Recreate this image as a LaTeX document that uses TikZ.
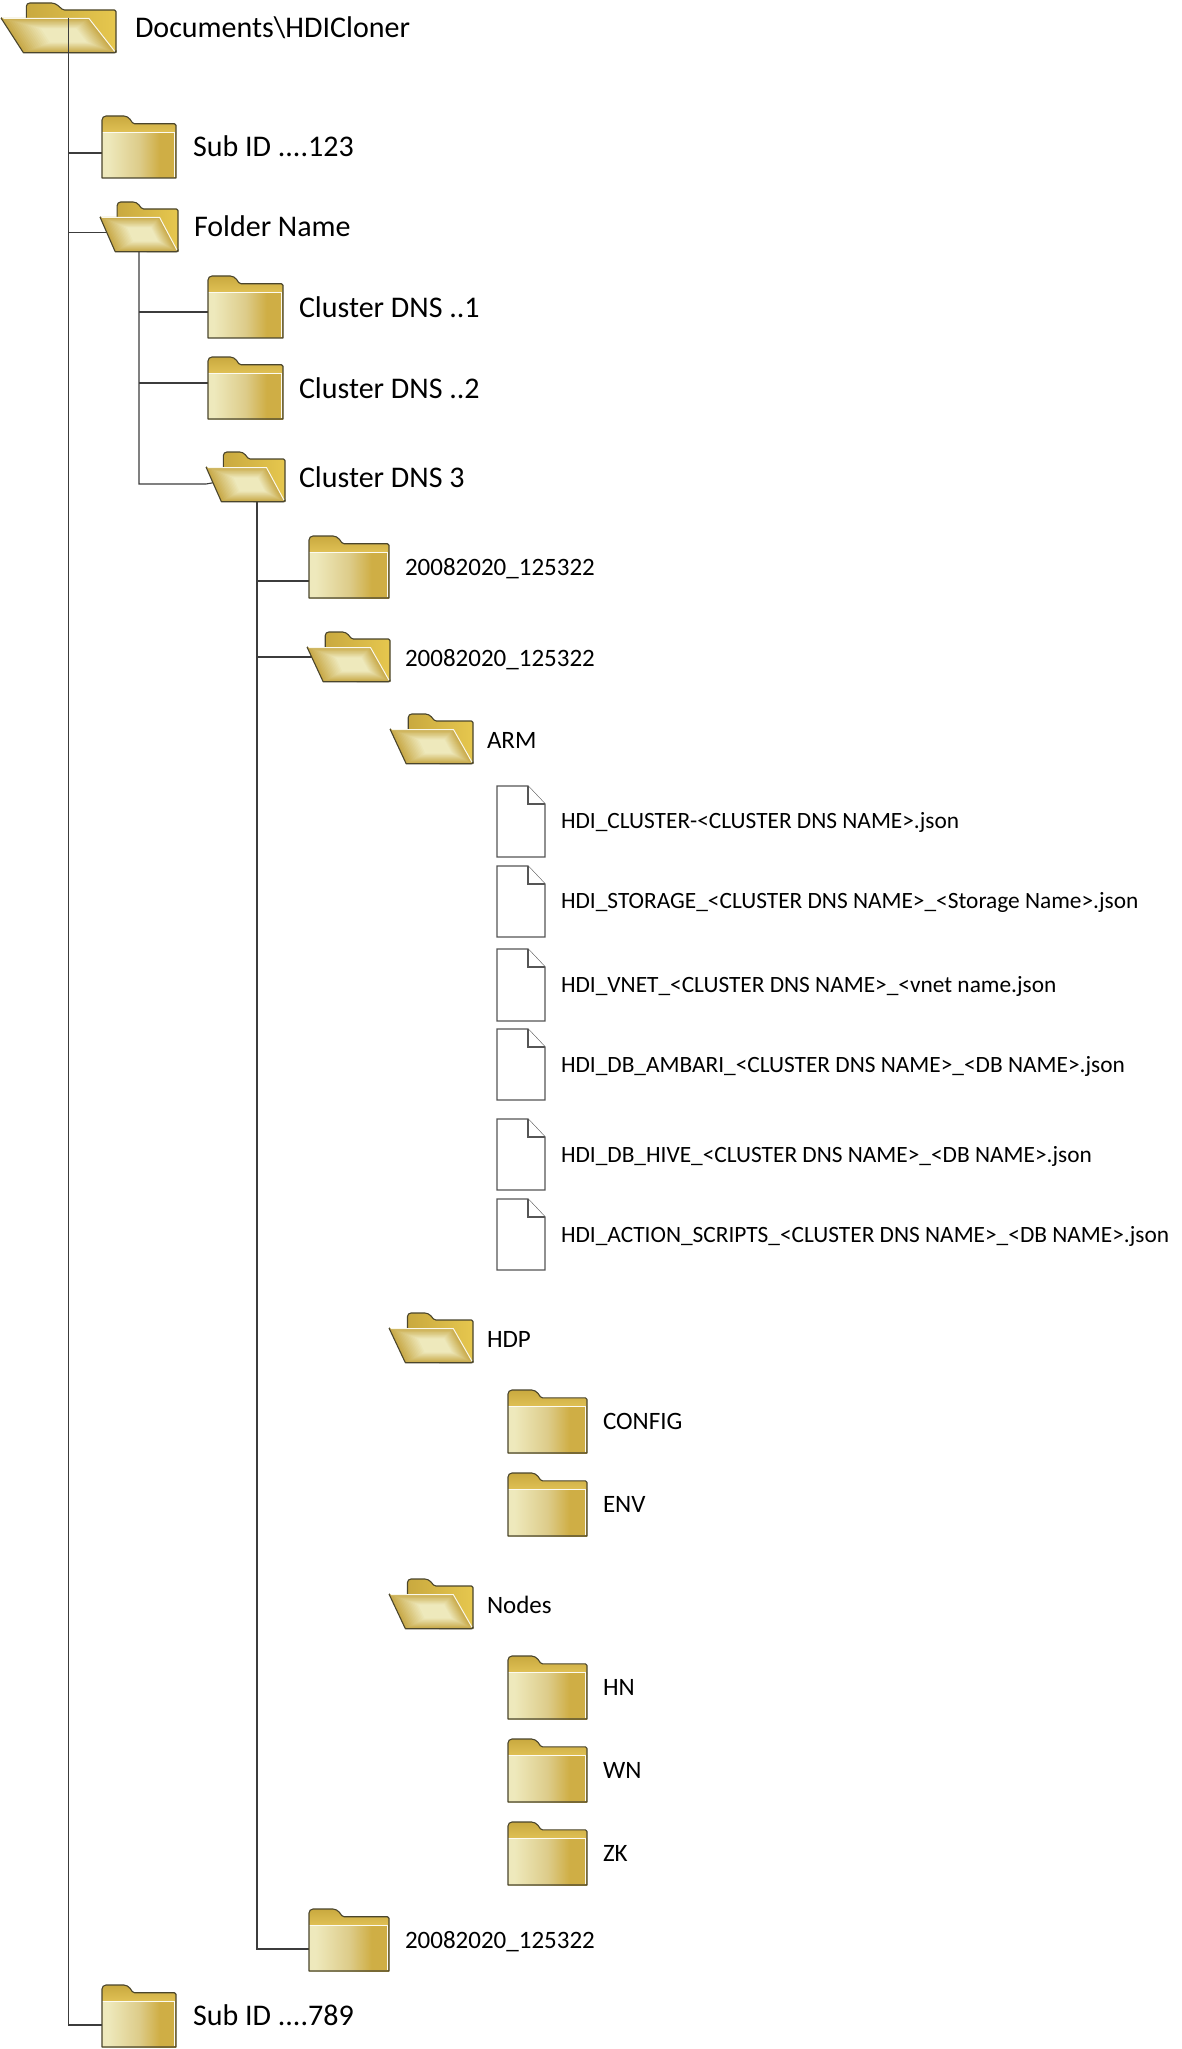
\documentclass[tikz,border=0pt]{standalone}
\usepackage{fontspec}
\setmainfont{Carlito}
\usetikzlibrary{backgrounds}
\definecolor{fline}{HTML}{4A452C}
\definecolor{glowin}{HTML}{EEE9BC}
\definecolor{glowout}{HTML}{C8A947}
\definecolor{goldtop}{HTML}{C9A93F}
\definecolor{goldlow}{HTML}{E3C458}
\definecolor{goldback}{HTML}{E6C74E}
\definecolor{panelmid}{HTML}{DDCC8A}
\definecolor{paneldark}{HTML}{CFAE45}
\definecolor{conn}{HTML}{3C3C3C}
\definecolor{fileline}{HTML}{555555}
\pgfdeclarehorizontalshading{panelshade}{100bp}{color(0bp)=(glowin); color(29bp)=(glowin); color(50bp)=(panelmid); color(64bp)=(paneldark); color(100bp)=(paneldark)}
\tikzset{
  iconbox/.style={rectangle,draw=none,inner sep=0pt,outer sep=0pt},
  outlinestyle/.style={draw=fline,line width=1.1pt,line join=round},
  connector/.style={draw=conn,line width=1.1pt},
  filestyle/.style={draw=fileline,fill=white,line width=1.1pt,line join=miter},
  lab/.style={anchor=base west,inner sep=0pt,outer sep=0pt,text=black},
  bigtxt/.style={lab,font=\fontsize{30}{35}\selectfont},
  midtxt/.style={lab,font=\fontsize{25}{30}\selectfont},
  filetxt/.style={lab,font=\fontsize{23.35}{28}\selectfont},
}
\newcommand{\fcbox}[5]{\node[iconbox,minimum width={(#4-#2)*1pt},minimum height={(#5-#3)*1pt}] (#1) at ({(#2+#4)/2},{(#3+#5)/2}) {};}
% closed folder: name x0 y0 x1 y1
\newcommand{\closedfolder}[5]{%
  \fcbox{#1}{#2}{#3}{#4}{#5}
  \pgfmathsetmacro\fw{(#4-#2)/100}\pgfmathsetmacro\fh{(#5-#3)/100}
  \begin{scope}[shift={(#2,#3)},x=\fw pt,y=-\fh pt]
    \shade[top color=goldtop,bottom color=goldlow] (0,30) [rounded corners=4pt] -- (0,0) -- (35,0) [rounded corners=1.5pt] -- (42,12.5) -- (100,12.5) [sharp corners] -- (100,30) -- cycle;
    \shade[shading=panelshade] (0,26) rectangle (100,100);
    \draw[white!80!glowin,line width=1pt] (0.5,26) -- (98,26) -- (98,99);
    \draw[outlinestyle] (0,100) [rounded corners=4pt] -- (0,0) -- (35,0) [rounded corners=1.5pt] -- (42,12.5) -- (100,12.5) [sharp corners] -- (100,100) -- cycle;
  \end{scope}}
% open folder
\newcommand{\openfolder}[5]{%
  \fcbox{#1}{#2}{#3}{#4}{#5}
  \pgfmathsetmacro\fw{(#4-#2)/100}\pgfmathsetmacro\fh{(#5-#3)/100}
  \begin{scope}[shift={(#2,#3)},x=\fw pt,y=-\fh pt]
    \shade[left color=goldtop,right color=goldback,draw=fline,line width=1.1pt,line join=round] (22,40) [rounded corners=3.5pt] -- (22,0) -- (47,0) [rounded corners=1.5pt] -- (54,14) -- (100,14) [sharp corners] -- (100,99) -- (60,99) -- cycle;
    \foreach \i in {0,...,15}{
      \pgfmathsetmacro\s{1-0.6*\i/15}
      \pgfmathsetmacro\m{100*(\i/15)}
      \fill[glowin!\m!glowout] ({58+(0-58)*\s},{65+(30-65)*\s}) -- ({58+(76.5-58)*\s},{65+(30-65)*\s}) -- ({58+(99.5-58)*\s},{65+(99.5-65)*\s}) -- ({58+(19.5-58)*\s},{65+(99.5-65)*\s}) -- cycle;
    }
    \draw[white!70!glowin,line width=1pt] (2,31) -- (76.5,31) -- (99,97);
    \draw[outlinestyle] (0,30) -- (0.8,30) (0,30) -- (19.5,99.5) [rounded corners=1.5pt] -- (100,99.5) -- (100,95);
  \end{scope}}
% file: name x0 y0 x1 y1
\newcommand{\filepage}[5]{%
  \node[iconbox,minimum width={(#4-#2)*1pt},minimum height={(#5-#3)*1pt}] (#1) at ({(#2+#4)/2},{(#3+#5)/2}) {};
  \draw[filestyle] (#2,#3) -- ({#4-17},#3) -- (#4,{#3+18}) -- (#4,#5) -- (#2,#5) -- cycle;
  \draw[filestyle] ({#4-17},#3) -- ({#4-17},{#3+18}) -- (#4,{#3+18});}
\begin{document}
\begin{tikzpicture}[x=1pt,y=-1pt]
\useasboundingbox (0,0) rectangle (1181,2049);

\openfolder{root}{1}{3}{116}{53}
\closedfolder{subA}{102}{116}{176}{178}
\openfolder{fname}{100}{202}{178}{252}
\closedfolder{dnsA}{208}{276}{283}{338}
\closedfolder{dnsB}{208}{357}{283}{419}
\openfolder{dnsC}{206}{452}{285}{502}
\closedfolder{dateA}{309}{536}{389}{598}
\openfolder{dateB}{307}{632}{390}{682}
\openfolder{arm}{390}{714}{473}{764}
\filepage{fileA}{497}{786}{545}{857}
\filepage{fileB}{497}{866}{545}{937}
\filepage{fileC}{497}{949}{545}{1021}
\filepage{fileD}{497}{1029}{545}{1100}
\filepage{fileE}{497}{1119}{545}{1190}
\filepage{fileF}{497}{1199}{545}{1270}
\openfolder{hdp}{389}{1313}{473}{1363}
\closedfolder{config}{508}{1390}{587}{1453}
\closedfolder{env}{508}{1473}{587}{1536}
\openfolder{nodesf}{389}{1579}{473}{1629}
\closedfolder{hn}{508}{1656}{587}{1719}
\closedfolder{wn}{508}{1739}{587}{1802}
\closedfolder{zk}{508}{1822}{587}{1885}
\closedfolder{dateC}{309}{1909}{389}{1971}
\closedfolder{subB}{102}{1985}{176}{2047}

\node[bigtxt] (troot) at (135,38) {Documents\textbackslash HDICloner};
\node[bigtxt] (tsubA) at (193,157) {Sub ID ....123};
\node[bigtxt] (tfname) at (194,237) {Folder Name};
\node[bigtxt] (tdnsA) at (299,318) {Cluster DNS ..1};
\node[bigtxt] (tdnsB) at (299,398) {Cluster DNS ..2};
\node[bigtxt] (tdnsC) at (299,487) {Cluster DNS 3};
\node[midtxt] (tdateA) at (405,575) {20082020\_125322};
\node[midtxt] (tdateB) at (405,666) {20082020\_125322};
\node[midtxt] (tarm) at (487,748) {ARM};
\node[filetxt] (tfileA) at (561,828) {HDI\_CLUSTER-<CLUSTER DNS NAME>.json};
\node[filetxt] (tfileB) at (561,908) {HDI\_STORAGE\_<CLUSTER DNS NAME>\_<Storage Name>.json};
\node[filetxt] (tfileC) at (561,992) {HDI\_VNET\_<CLUSTER DNS NAME>\_<vnet name.json};
\node[filetxt] (tfileD) at (561,1072) {HDI\_DB\_AMBARI\_<CLUSTER DNS NAME>\_<DB NAME>.json};
\node[filetxt] (tfileE) at (561,1162) {HDI\_DB\_HIVE\_<CLUSTER DNS NAME>\_<DB NAME>.json};
\node[filetxt] (tfileF) at (561,1242) {HDI\_ACTION\_SCRIPTS\_<CLUSTER DNS NAME>\_<DB NAME>.json};
\node[midtxt] (thdp) at (487,1347) {HDP};
\node[midtxt] (tconfig) at (603,1429) {CONFIG};
\node[midtxt] (tenv) at (603,1512) {ENV};
\node[midtxt] (tnodes) at (487,1613) {Nodes};
\node[midtxt] (thn) at (603,1695) {HN};
\node[midtxt] (twn) at (603,1778) {WN};
\node[midtxt] (tzk) at (603,1861) {ZK};
\node[midtxt] (tdateC) at (405,1948) {20082020\_125322};
\node[bigtxt] (tsubB) at (193,2025) {Sub ID ....789};

\coordinate (busR) at (68.5,18);
\coordinate (busF) at (fname.south);
\coordinate (busC) at (257,502);

\begin{scope}[on background layer]
  \draw[connector] (busR |- subA.west) ++(0,6) -- ++(40,0);
  \draw[connector] (busR |- fname.west) ++(0,5.5) -- ++(50,0);
  \draw[connector] (busF) |- ([yshift=-7pt]dnsC.west) -- (dnsC.center);
  \draw[connector] (busF |- dnsA.west) ++(0,5) -- ++(75,0);
  \draw[connector] (busF |- dnsB.west) ++(0,-5) -- ++(75,0);
  \draw[connector] (busC) |- ([yshift=-9pt]dateC.west);
  \draw[connector] (busC |- dateA.west) ++(0,14) -- ++(60,0);
  \draw[connector] (busC |- dateB.west) ++(0,0) -- ++(60,0);
\end{scope}
\draw[connector] (busR) |- ([yshift=-9pt]subB.west);
\end{tikzpicture}
\end{document}
